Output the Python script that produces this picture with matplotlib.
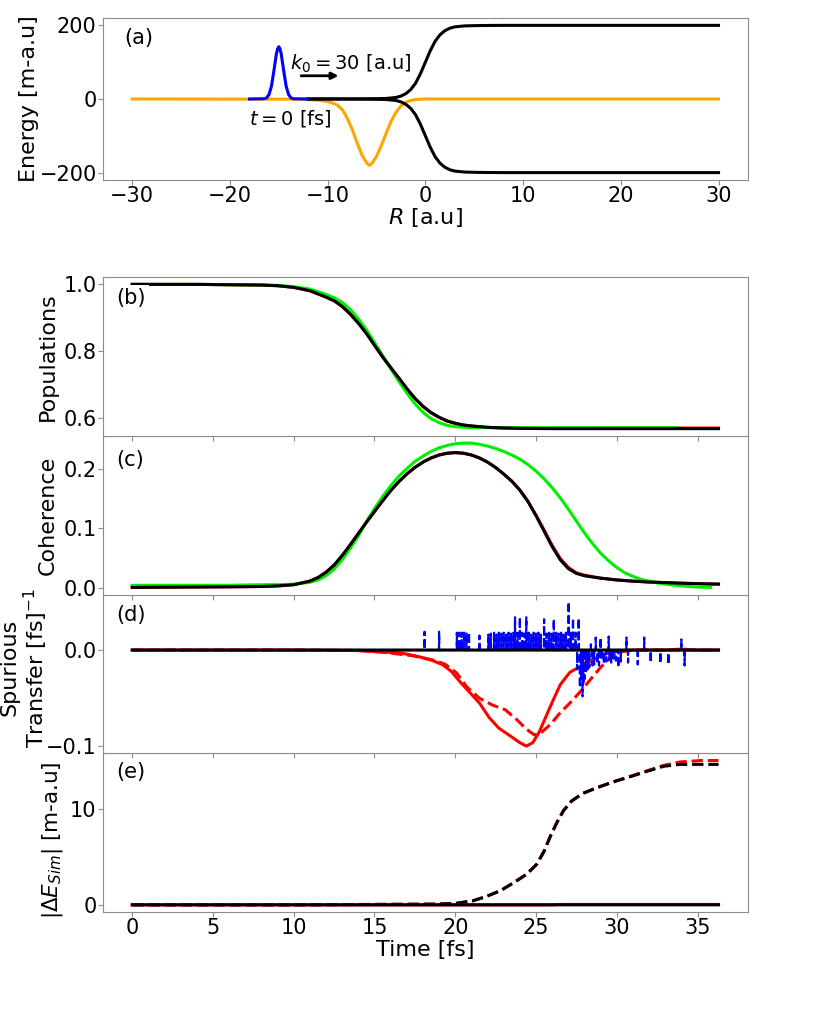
import matplotlib
matplotlib.use('Agg')
import matplotlib.pyplot as plt

plt.rcParams['font.family'] = ['DejaVu Sans']
plt.rcParams['font.size'] = 15
plt.rcParams['axes.labelsize'] = 16
plt.rcParams['axes.edgecolor'] = '0.55'
plt.rcParams['xtick.color'] = '0.55'
plt.rcParams['ytick.color'] = '0.55'
plt.rcParams['xtick.labelcolor'] = 'black'
plt.rcParams['ytick.labelcolor'] = 'black'
plt.rcParams['ytick.major.pad'] = 1.0
plt.rcParams['xtick.major.pad'] = 1.0

# ---- panel (a): potentials along R ----
R_pes = [-12, -6, -5, -4, -3, -2.5, -2, -1.5, -1, -0.5, 0, 0.5, 1, 1.5, 2, 2.5, 3, 4, 5, 6, 8, 12, 30]
E_upper = [0, 0.4, 0.8, 1.5, 4.2, 7.8, 14.5, 25.5, 43, 69, 100, 131, 157, 174.5, 185.5,
           192.2, 195.8, 198.5, 199.2, 199.6, 200, 200, 200]
E_lower = [0, -0.4, -0.8, -1.5, -4.2, -7.8, -14.5, -25.5, -43, -69, -100, -131, -157, -174.5,
           -185.5, -192.2, -195.8, -198.5, -199.2, -199.6, -200, -200, -200]
R_coup = [-30, -14, -12, -11, -10, -9.5, -9, -8.5, -8, -7.5, -7, -6.5, -6, -5.75, -5.5, -5,
          -4.5, -4, -3.5, -3, -2.5, -2, -1.5, -1, 0, 2, 30]
E_coup = [0, -0.5, -1.5, -3, -7, -11, -17, -29, -52, -82, -118, -152, -174, -180, -176, -156,
          -126, -92, -60, -36, -19, -9, -4, -1.5, 0, 0, 0]
R_wp = [-18, -16.5, -16.25, -16, -15.75, -15.5, -15.25, -15.125, -15, -14.875, -14.75, -14.5,
        -14.25, -14, -13.75, -13.5, -12]
psi_wp = [0, 0.6, 3, 12, 35, 77, 122, 136, 142, 136, 122, 77, 35, 12, 3, 0.6, 0]

# ---- panel (b): populations ----
t_pop = [0, 2, 4, 6, 8, 9, 10, 11, 12, 12.5, 13, 13.5, 14, 14.5, 15, 15.5, 16, 16.5, 17, 17.5,
         18, 18.5, 19, 19.5, 20, 20.5, 21, 22, 23, 24, 26, 28, 30, 33, 34, 36.3]
pop_black = [1.0, 1.0, 1.0, 0.999, 0.998, 0.996, 0.991, 0.981, 0.962, 0.951, 0.934, 0.911, 0.884,
             0.853, 0.818, 0.783, 0.751, 0.720, 0.688, 0.659, 0.635, 0.616, 0.602, 0.591, 0.584,
             0.579, 0.576, 0.572, 0.570, 0.569, 0.568, 0.568, 0.568, 0.568, 0.568, 0.568]
pop_red = [1.0, 1.0, 1.0, 0.999, 0.998, 0.996, 0.991, 0.981, 0.962, 0.951, 0.934, 0.911, 0.884,
           0.853, 0.818, 0.783, 0.751, 0.720, 0.688, 0.659, 0.635, 0.616, 0.602, 0.591, 0.584,
           0.579, 0.576, 0.572, 0.570, 0.569, 0.569, 0.569, 0.570, 0.570, 0.570, 0.570]
t_pop_g = [0, 2, 4, 6, 8, 9, 10, 11, 12, 12.5, 13, 13.5, 14, 14.5, 15, 15.5, 16, 16.5, 17, 17.5,
           18, 18.5, 19, 19.5, 20, 20.5, 21, 22, 24, 28, 33.7]
pop_green = [1.0, 1.0, 1.0, 0.999, 0.998, 0.997, 0.993, 0.986, 0.970, 0.960, 0.946, 0.925, 0.897,
             0.864, 0.826, 0.787, 0.748, 0.710, 0.675, 0.643, 0.617, 0.598, 0.586, 0.578, 0.574,
             0.572, 0.571, 0.571, 0.571, 0.571, 0.571]

# ---- panel (c): coherence ----
t_coh = [0, 3, 6, 8, 9, 10, 11, 11.5, 12, 12.5, 13, 13.5, 14, 14.5, 15, 15.5, 16, 16.5, 17,
         17.5, 18, 18.5, 19, 19.5, 20, 20.5, 21, 21.5, 22, 22.5, 23, 23.5, 24, 24.5, 25, 25.5,
         26, 26.5, 27, 27.5, 28, 29, 30, 31, 32, 33, 34, 35, 36.3]
coh_black = [0.0005, 0.001, 0.0015, 0.002, 0.003, 0.005, 0.011, 0.017, 0.026, 0.038, 0.054,
             0.072, 0.091, 0.110, 0.128, 0.146, 0.163, 0.178, 0.191, 0.202, 0.211, 0.218, 0.223,
             0.226, 0.227, 0.226, 0.223, 0.218, 0.211, 0.202, 0.191, 0.179, 0.164, 0.145, 0.121,
             0.095, 0.069, 0.047, 0.032, 0.024, 0.020, 0.016, 0.013, 0.011, 0.0095, 0.0085,
             0.0075, 0.0068, 0.006]
coh_red = [0.0005, 0.001, 0.0015, 0.002, 0.003, 0.005, 0.011, 0.017, 0.026, 0.038, 0.054,
           0.072, 0.091, 0.110, 0.128, 0.146, 0.163, 0.178, 0.191, 0.202, 0.211, 0.218, 0.223,
           0.226, 0.227, 0.226, 0.223, 0.218, 0.211, 0.202, 0.191, 0.179, 0.164, 0.145, 0.122,
           0.097, 0.071, 0.049, 0.034, 0.025, 0.021, 0.016, 0.013, 0.011, 0.0095, 0.0085,
           0.0075, 0.0068, 0.006]
t_coh_g = [0, 3, 6, 8, 9, 10, 11, 11.5, 12, 12.5, 13, 13.5, 14, 14.5, 15, 15.5, 16, 16.5, 17,
           17.5, 18, 18.5, 19, 19.5, 20, 20.5, 21, 21.5, 22, 22.5, 23, 23.5, 24, 24.5, 25, 25.5,
           26, 26.5, 27, 27.5, 28, 28.5, 29, 29.5, 30, 30.5, 31, 31.5, 32, 32.5, 33, 34, 35, 35.8]
coh_green = [0.004, 0.004, 0.004, 0.005, 0.005, 0.006, 0.009, 0.013, 0.020, 0.031, 0.047, 0.066,
             0.087, 0.111, 0.133, 0.153, 0.171, 0.187, 0.200, 0.212, 0.221, 0.229, 0.235, 0.239,
             0.242, 0.243, 0.243, 0.241, 0.238, 0.234, 0.229, 0.223, 0.216, 0.207, 0.196, 0.183,
             0.168, 0.151, 0.132, 0.112, 0.092, 0.074, 0.058, 0.045, 0.034, 0.025, 0.019, 0.014,
             0.011, 0.008, 0.006, 0.003, 0.001, 0.0005]

# ---- panel (d): spurious transfer ----
t_sp = [0, 10, 14, 15.35, 16.6, 17.4, 18.0, 18.6, 19.2, 19.75, 20.3, 20.9, 21.5, 22.1, 22.7, 23.4,
        24.0, 24.4, 24.8, 25.2, 25.9, 26.5, 27.1, 27.75, 28.4, 29.0, 29.6, 30.2, 31, 33, 34, 35, 36.3]
sp_red = [0, 0, -0.0005, -0.002, -0.003, -0.0056, -0.008, -0.011, -0.015, -0.022, -0.033, -0.044,
          -0.055, -0.070, -0.081, -0.089, -0.096, -0.0996, -0.096, -0.085, -0.058, -0.036, -0.023,
          -0.017, -0.011, -0.006, -0.002, -0.001, 0, 0, 0.001, 0, 0]
t_sp_d = [0, 10, 14, 15.35, 17.4, 18.8, 19.4, 20.1, 20.7, 21.5, 22.3, 23.1, 23.8, 24.4, 24.9, 25.3,
          25.9, 26.5, 27.1, 27.75, 28.4, 29.0, 29.6, 30.2, 31, 36.3]
sp_red_dash = [0, 0, -0.0005, -0.002, -0.006, -0.011, -0.015, -0.024, -0.038, -0.050, -0.057,
               -0.062, -0.072, -0.082, -0.088, -0.086, -0.077, -0.065, -0.055, -0.043, -0.030,
               -0.018, -0.008, -0.002, 0, 0]
sp_black_t = [0, 36.3]
sp_black = [0, 0]
spike_t = [18.1, 19.0, 20.1, 20.25, 20.4, 20.55, 20.7, 20.85, 21.5, 22.05, 22.2, 22.4, 22.55, 22.7,
           22.85, 23.0, 23.15, 23.3, 23.45, 23.6, 23.7, 23.85, 24.0, 24.15, 24.3, 24.4, 24.55, 24.7,
           24.85, 25.0, 25.15, 25.3, 25.5, 25.65, 25.8, 25.95, 26.1, 26.25, 26.4, 26.55, 26.7,
           26.85, 27.02, 27.15, 27.29, 27.45, 27.55, 27.64, 27.72, 27.8, 27.88, 27.95, 28.02,
           28.1, 28.2, 28.3, 28.4, 28.5, 28.6, 28.7, 28.8, 28.9, 29.0, 29.05, 29.2, 29.35, 29.5,
           29.55, 29.65, 29.8, 29.95, 30.1, 30.25, 30.6, 30.7, 31.3, 31.7, 32.1, 32.7, 33.2, 34.0,
           34.2]
spike_v = [0.019, 0.019, 0.018, 0.018, 0.018, 0.018, 0.018, 0.018, 0.015, 0.016, 0.017, 0.018,
           0.016, 0.018, 0.017, 0.018, 0.016, 0.018, 0.017, 0.018, 0.034, 0.018, 0.034, 0.018,
           0.017, 0.034, 0.018, 0.016, 0.018, 0.017, 0.018, 0.016, 0.032, 0.017, 0.018, 0.017,
           0.032, 0.018, 0.017, 0.018, 0.016, 0.018, 0.050, 0.018, 0.033, 0.018, -0.020, 0.033,
           -0.039, -0.030, -0.048, -0.035, -0.030, -0.022, -0.020, -0.018, 0.006, -0.016, -0.015,
           0.013, -0.014, -0.016, 0.013, -0.010, -0.014, -0.012, 0.014, -0.010, -0.013, -0.009,
           -0.011, -0.018, -0.012, 0.013, -0.013, -0.015, 0.013, -0.013, -0.014, -0.015, 0.011,
           -0.016]

# ---- panel (e): energy error ----
t_de = [0, 10, 18.66, 20, 21.1, 21.95, 22.8, 23.6, 24.4, 25.04, 25.5, 25.9, 26.3, 26.7, 27.2,
        27.9, 28.8, 29.8, 30.8, 31.9, 32.9, 33.9, 35.2, 36.3]
de_black_dash = [0.05, 0.05, 0.12, 0.19, 0.47, 0.93, 1.52, 2.32, 3.2, 4.24, 5.6, 7.2, 8.6, 9.8,
                 10.8, 11.6, 12.2, 12.8, 13.3, 13.9, 14.4, 14.6, 14.6, 14.6]
de_red_dash = [0.05, 0.05, 0.12, 0.19, 0.47, 0.93, 1.52, 2.32, 3.2, 4.24, 5.6, 7.2, 8.6, 9.8,
               10.8, 11.6, 12.2, 12.8, 13.35, 13.95, 14.5, 14.85, 15.0, 15.0]
t_de_s = [0, 26, 26.5, 36.3]
de_black_solid = [0.05, 0.05, 0.05, 0.05]
de_red_solid = [0.05, 0.05, 0.09, 0.09]

fig = plt.figure(figsize=(8.3, 10.22), dpi=100)
L, W = 0.124, 0.777
axa = fig.add_axes([L, 0.8239, W, 0.1585])
h = 0.1553
axe = fig.add_axes([L, 0.1076, W, h])
axd = fig.add_axes([L, 0.1076 + h, W, h], sharex=axe)
axc = fig.add_axes([L, 0.1076 + 2 * h, W, h], sharex=axe)
axb = fig.add_axes([L, 0.1076 + 3 * h, W, h], sharex=axe)

lw = 2.2

# (a)
axa.plot(R_coup, E_coup, color='orange', lw=lw)
axa.plot(R_pes, E_upper, color='black', lw=lw)
axa.plot(R_pes, E_lower, color='black', lw=lw)
axa.plot(R_wp, psi_wp, color='blue', lw=lw)
axa.set_yticks([-200, 0, 200])
axa.set_xlabel('$R$ [a.u]', labelpad=0)
axa.set_ylabel('Energy [m-a.u]', labelpad=0)
axa.text(0.033, 0.877, '(a)', transform=axa.transAxes, ha='left', va='center')
axa.text(-13.9, 95, '$k_0 = 30$ [a.u]', ha='left', va='center', fontsize=14)
axa.text(-18.0, -54, '$t = 0$ [fs]', ha='left', va='center', fontsize=14)
axa.annotate('', xy=(-8.6, 63), xytext=(-13.0, 63),
             arrowprops=dict(arrowstyle='-|>', color='black', lw=2, mutation_scale=10))

# (b)
axb.plot(t_pop, pop_red, color='red', lw=lw)
axb.plot(t_pop_g, pop_green, color='#00ee00', lw=lw)
axb.plot(t_pop, pop_black, color='black', lw=lw)
axb.set_yticks([0.6, 0.8, 1.0])
axb.set_ylabel('Populations')
axb.text(0.021, 0.871, '(b)', transform=axb.transAxes, ha='left', va='center',
         bbox=dict(facecolor='white', edgecolor='none', pad=2), zorder=5)

# (c)
axc.plot(t_coh, coh_red, color='red', lw=lw)
axc.plot(t_coh_g, coh_green, color='#00ee00', lw=lw)
axc.plot(t_coh, coh_black, color='black', lw=lw)
axc.set_yticks([0.0, 0.1, 0.2])
axc.set_ylabel('Coherence')
axc.text(0.021, 0.848, '(c)', transform=axc.transAxes, ha='left', va='center')

# (d) spikes drawn as narrow excursions from zero
blue_t = [0]
blue_v = [0]
for ts, vs in zip(spike_t, spike_v):
    blue_t += [ts - 0.01, ts, ts + 0.01]
    blue_v += [0, vs, 0]
blue_t.append(36.3)
blue_v.append(0)
axd.plot(t_sp, sp_red, color='red', lw=lw)
axd.plot(t_sp_d, sp_red_dash, color='red', lw=lw, ls='--')
axd.plot(blue_t, blue_v, color='blue', lw=1.6, ls='--')
axd.plot(sp_black_t, sp_black, color='black', lw=lw, snap=False)
axd.set_yticks([-0.1, 0.0])
axd.set_ylabel('Spurious\nTransfer [fs]$^{-1}$', va='center', linespacing=1.1)
axd.yaxis.set_label_coords(-0.121, 0.54)
axd.text(0.021, 0.873, '(d)', transform=axd.transAxes, ha='left', va='center')

# (e)
axe.plot(t_de, de_red_dash, color='red', lw=lw, ls='--')
axe.plot(t_de, de_black_dash, color='black', lw=lw, ls='--')
axe.plot(t_de_s, de_red_solid, color='red', lw=lw)
axe.plot(t_de_s, de_black_solid, color='black', lw=lw, snap=False)
axe.set_yticks([0, 10])
axe.set_xticks([0, 5, 10, 15, 20, 25, 30, 35])
axe.set_xlabel('Time [fs]', labelpad=1)
axe.set_ylabel(r'$|\Delta E_{Sim}|$ [m-a.u]', fontsize=15.5)
axe.yaxis.label.set_y(0.45)
axe.text(0.021, 0.88, '(e)', transform=axe.transAxes, ha='left', va='center')

for ax in (axb, axc, axd):
    ax.tick_params(labelbottom=False)

fig.savefig('out.png', dpi=100)
